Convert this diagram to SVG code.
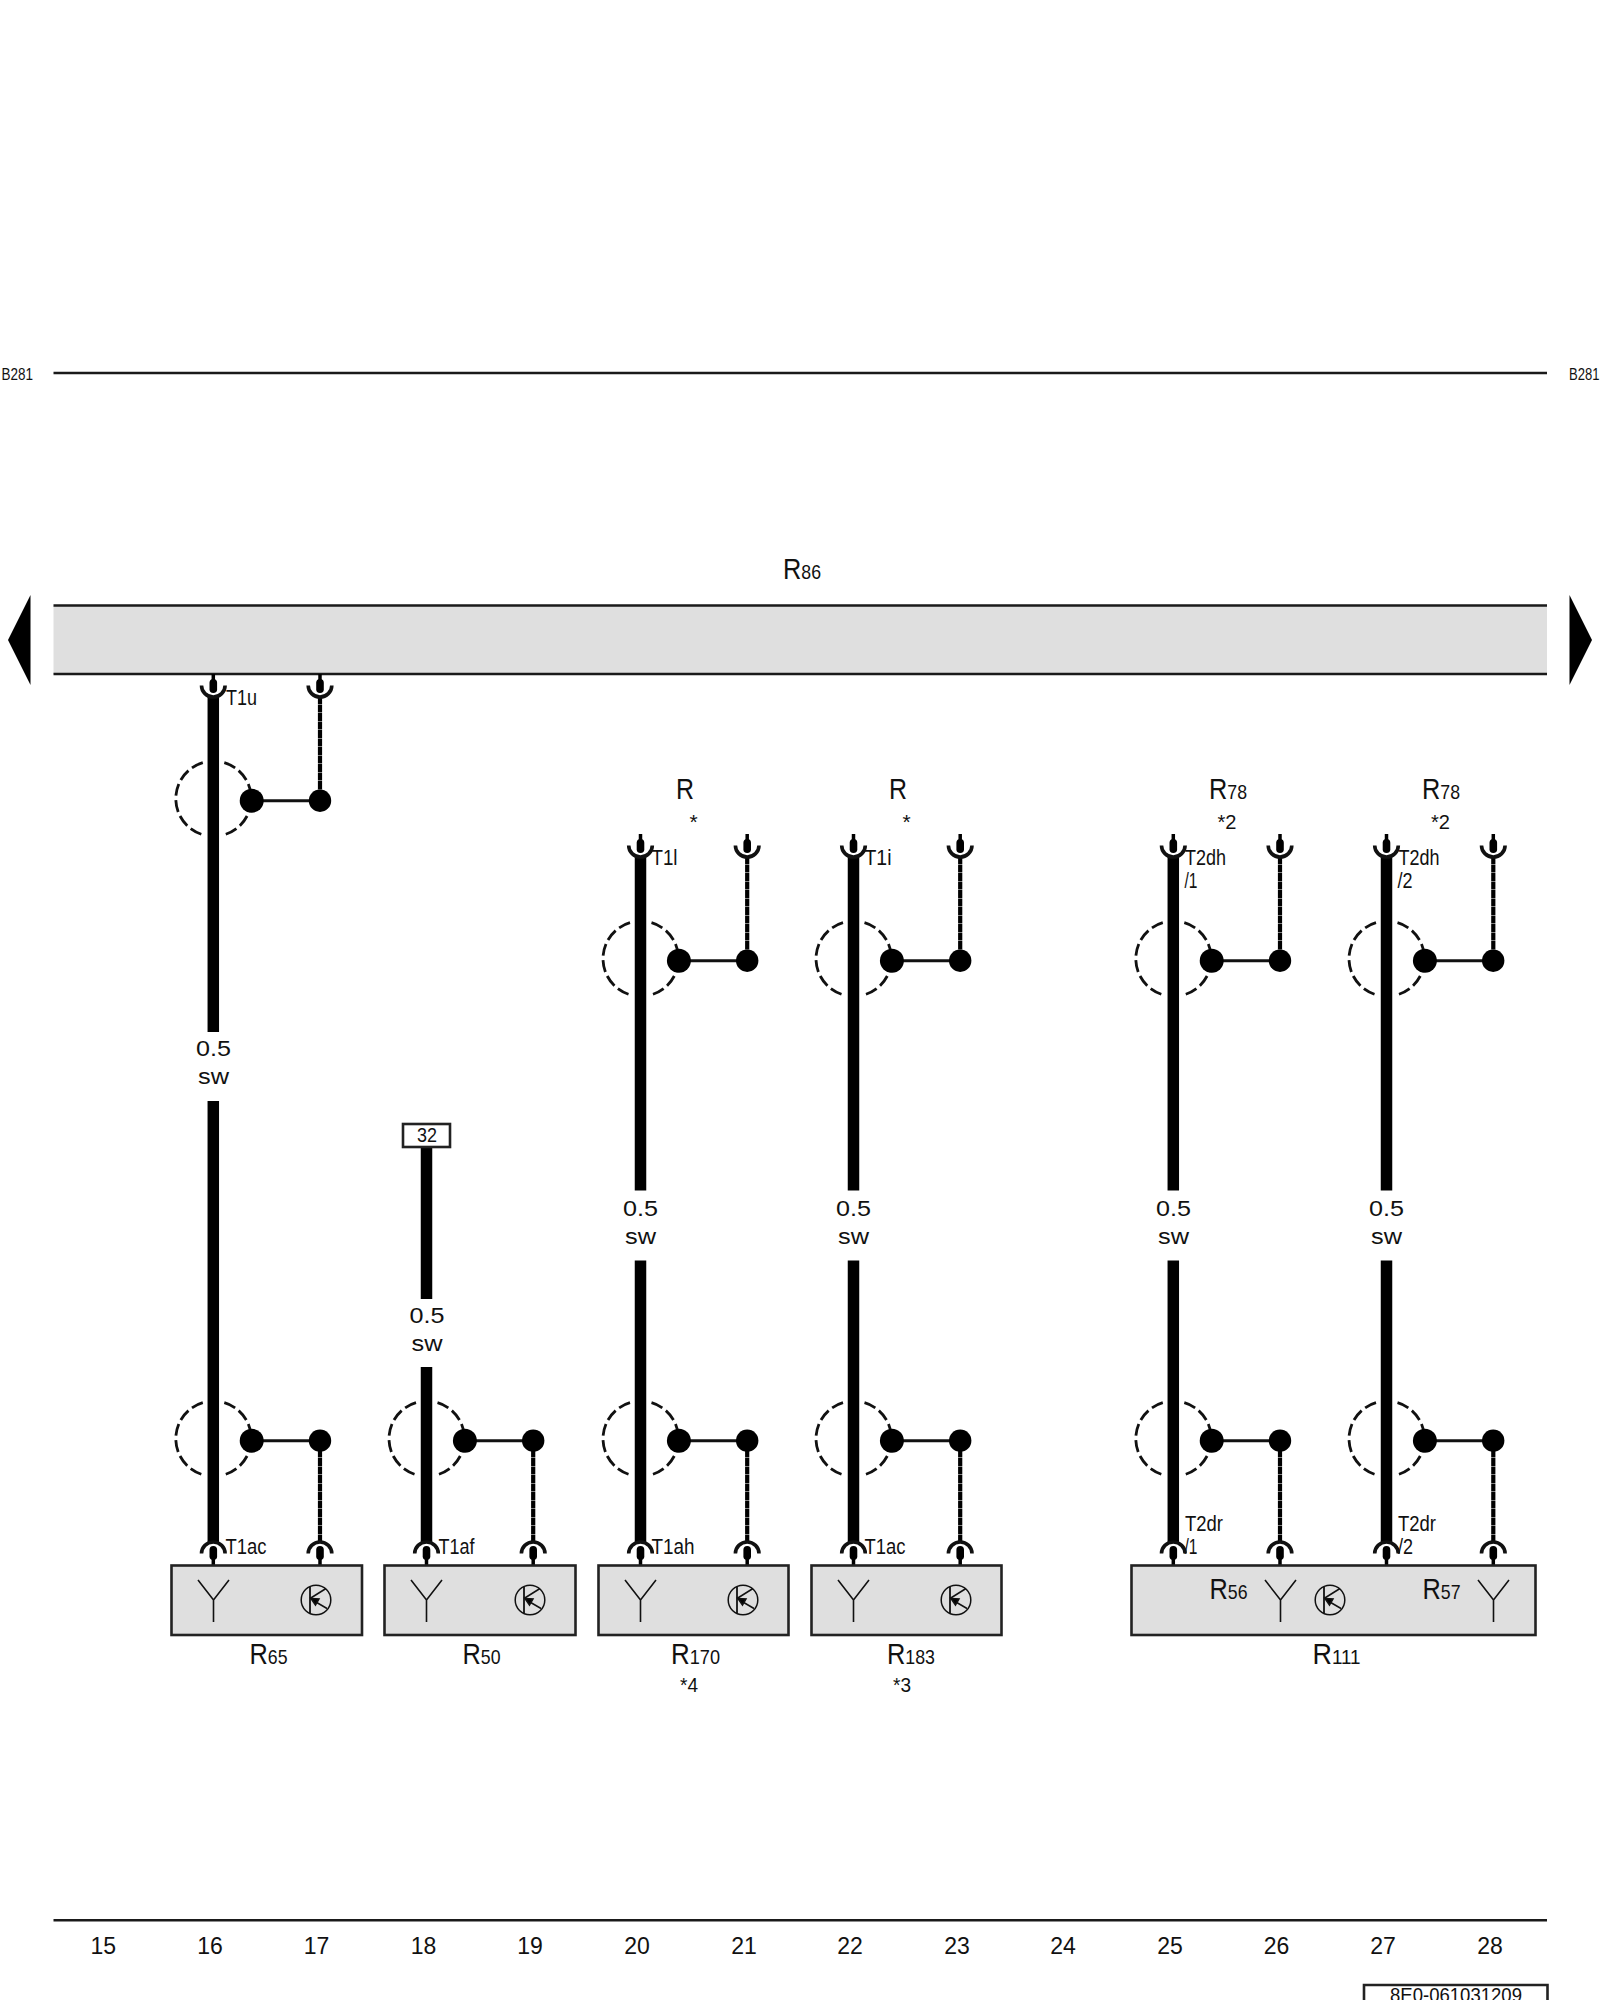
<svg xmlns="http://www.w3.org/2000/svg" xmlns:xlink="http://www.w3.org/1999/xlink" width="1600" height="2000" viewBox="0 0 1600 2000">
<style>
text{font-family:"Liberation Sans",Arial,sans-serif;fill:#111}
.big{font-size:30px}.sub{font-size:21px}
.pin{font-size:22px}.gauge{font-size:22px;text-anchor:middle}
.num{font-size:23px;text-anchor:middle}
.small{font-size:16.500px}.star{font-size:21px}
.rule{stroke:#1a1a1a;stroke-width:2.600;fill:none}
.box{fill:#dfdfdf;stroke:#222;stroke-width:2.600}
.thick{stroke:#000;stroke-width:11.500;fill:none}
.twist{stroke:#000;stroke-width:4.200;fill:none;stroke-dasharray:8 .5}
.thin{stroke:#111;fill:none}
</style>
<defs>
<g id="sock">
<path d="M0,0V8" stroke="#000" stroke-width="3.500"/>
<rect x="-3.800" y="5" width="7.600" height="14" rx="3.800" fill="#000"/>
<path d="M-11.800,11.500A11.800,11.500 0 0 0 11.800,11.500" class="thin" stroke-width="3.600"/>
</g>
<g id="shield">
<path d="M-10.500,-38A37.500,37.500 0 0 0 -10.500,34" class="thin" stroke-width="2.800" stroke-dasharray="12 4.500"/>
<path d="M11,-38A37.500,37.500 0 0 1 11,34" class="thin" stroke-width="2.800" stroke-dasharray="12 4.500"/>
<path d="M38,0H106" class="thin" stroke-width="3"/>
<circle cx="38.400" cy="0" r="12" fill="#000"/>
<circle cx="106.700" cy="0" r="11.200" fill="#000"/>
</g>
<g id="ant" class="thin" stroke-width="1.600">
<path d="M-15.500,-20L0,0L15.500,-20M0,0V22"/>
</g>
<g id="trans" class="thin" stroke-width="1.500">
<circle r="14.800"/>
<path d="M-6,-13V13" stroke-width="1.800"/>
<path d="M-6,-1.500L10,-11.500M-1,1.500L11,8.500"/>
<path d="M-5,-1.500L3,-1L-.5,5Z" fill="#000"/>
</g>
</defs>

<g id="border-lines">
<path class="rule" d="M53.500,373H1547"/>
<path class="rule" d="M53.500,1920.300H1547"/>
<text class="small" x="1.500" y="380" textLength="31.500" lengthAdjust="spacingAndGlyphs">B281</text>
<text class="small" x="1569" y="380" textLength="30.500" lengthAdjust="spacingAndGlyphs">B281</text>
</g>

<g id="R86">
<rect x="53.500" y="605.500" width="1493.500" height="68.500" fill="#dfdfdf"/>
<path class="rule" d="M53.500,605.500H1547M53.500,674H1547"/>
<path d="M8,640L30.500,595V685Z" fill="#000"/>
<path d="M1592,640L1569.500,595V685Z" fill="#000"/>
<text x="783" y="578.500" class="big" textLength="38" lengthAdjust="spacingAndGlyphs">R<tspan class="sub">86</tspan></text>
</g>

<g id="connectors">
<g id="shields">
<use xlink:href="#shield" href="#shield" x="213.300" y="800.700"/>
<use xlink:href="#shield" href="#shield" x="640.500" y="960.700"/>
<use xlink:href="#shield" href="#shield" x="853.500" y="960.700"/>
<use xlink:href="#shield" href="#shield" x="1173.300" y="960.700"/>
<use xlink:href="#shield" href="#shield" x="1386.500" y="960.700"/>
<use xlink:href="#shield" href="#shield" x="213.300" y="1440.700"/>
<use xlink:href="#shield" href="#shield" x="426.500" y="1440.700"/>
<use xlink:href="#shield" href="#shield" x="640.500" y="1440.700"/>
<use xlink:href="#shield" href="#shield" x="853.500" y="1440.700"/>
<use xlink:href="#shield" href="#shield" x="1173.300" y="1440.700"/>
<use xlink:href="#shield" href="#shield" x="1386.500" y="1440.700"/>
</g>
<g id="wires">
<path class="thick" d="M213.300,696V1032M213.300,1101V1543"/>
<path class="thick" d="M426.500,1147V1299M426.500,1367V1543"/>
<path class="thick" d="M640.500,856V1190.500M640.500,1260.500V1543"/>
<path class="thick" d="M853.500,856V1190.500M853.500,1260.500V1543"/>
<path class="thick" d="M1173.300,856V1190.500M1173.300,1260.500V1543"/>
<path class="thick" d="M1386.500,856V1190.500M1386.500,1260.500V1543"/>
<path class="twist" d="M320,696V800M320,1441V1543"/>
<path class="twist" d="M533.200,1441V1543"/>
<path class="twist" d="M747.200,856V960M747.200,1441V1543"/>
<path class="twist" d="M960.200,856V960M960.200,1441V1543"/>
<path class="twist" d="M1280,856V960M1280,1441V1543"/>
<path class="twist" d="M1493.300,856V960M1493.300,1441V1543"/>
</g>
<g id="sockets">
<use xlink:href="#sock" href="#sock" transform="translate(213.300,674)"/>
<use xlink:href="#sock" href="#sock" transform="translate(320,674)"/>
<use xlink:href="#sock" href="#sock" transform="translate(640.500,834)"/>
<use xlink:href="#sock" href="#sock" transform="translate(747.200,834)"/>
<use xlink:href="#sock" href="#sock" transform="translate(853.500,834)"/>
<use xlink:href="#sock" href="#sock" transform="translate(960.200,834)"/>
<use xlink:href="#sock" href="#sock" transform="translate(1173.300,834)"/>
<use xlink:href="#sock" href="#sock" transform="translate(1280,834)"/>
<use xlink:href="#sock" href="#sock" transform="translate(1386.500,834)"/>
<use xlink:href="#sock" href="#sock" transform="translate(1493.300,834)"/>
<use xlink:href="#sock" href="#sock" transform="translate(213.300,1565) scale(1,-1)"/>
<use xlink:href="#sock" href="#sock" transform="translate(320,1565) scale(1,-1)"/>
<use xlink:href="#sock" href="#sock" transform="translate(426.500,1565) scale(1,-1)"/>
<use xlink:href="#sock" href="#sock" transform="translate(533.200,1565) scale(1,-1)"/>
<use xlink:href="#sock" href="#sock" transform="translate(640.500,1565) scale(1,-1)"/>
<use xlink:href="#sock" href="#sock" transform="translate(747.200,1565) scale(1,-1)"/>
<use xlink:href="#sock" href="#sock" transform="translate(853.500,1565) scale(1,-1)"/>
<use xlink:href="#sock" href="#sock" transform="translate(960.200,1565) scale(1,-1)"/>
<use xlink:href="#sock" href="#sock" transform="translate(1173.300,1565) scale(1,-1)"/>
<use xlink:href="#sock" href="#sock" transform="translate(1280,1565) scale(1,-1)"/>
<use xlink:href="#sock" href="#sock" transform="translate(1386.500,1565) scale(1,-1)"/>
<use xlink:href="#sock" href="#sock" transform="translate(1493.300,1565) scale(1,-1)"/>
</g>
<g id="wire-labels">
<text class="gauge" x="213.500" y="1056" textLength="35" lengthAdjust="spacingAndGlyphs">0.5</text><text class="gauge" x="213.500" y="1084" textLength="31" lengthAdjust="spacingAndGlyphs">sw</text>
<text class="gauge" x="427" y="1323" textLength="35" lengthAdjust="spacingAndGlyphs">0.5</text><text class="gauge" x="427" y="1351" textLength="31" lengthAdjust="spacingAndGlyphs">sw</text>
<text class="gauge" x="640.500" y="1216" textLength="35" lengthAdjust="spacingAndGlyphs">0.5</text><text class="gauge" x="640.500" y="1244" textLength="31" lengthAdjust="spacingAndGlyphs">sw</text>
<text class="gauge" x="853.500" y="1216" textLength="35" lengthAdjust="spacingAndGlyphs">0.5</text><text class="gauge" x="853.500" y="1244" textLength="31" lengthAdjust="spacingAndGlyphs">sw</text>
<text class="gauge" x="1173.500" y="1216" textLength="35" lengthAdjust="spacingAndGlyphs">0.5</text><text class="gauge" x="1173.500" y="1244" textLength="31" lengthAdjust="spacingAndGlyphs">sw</text>
<text class="gauge" x="1386.500" y="1216" textLength="35" lengthAdjust="spacingAndGlyphs">0.5</text><text class="gauge" x="1386.500" y="1244" textLength="31" lengthAdjust="spacingAndGlyphs">sw</text>
</g>
<g id="pin-labels">
<text class="pin" x="226" y="705" textLength="31" lengthAdjust="spacingAndGlyphs">T1u</text>
<text class="pin" x="651.500" y="865" textLength="26" lengthAdjust="spacingAndGlyphs">T1l</text>
<text class="pin" x="864.500" y="865" textLength="27" lengthAdjust="spacingAndGlyphs">T1i</text>
<text class="pin" x="1185" y="865" textLength="41" lengthAdjust="spacingAndGlyphs">T2dh</text>
<text class="pin" x="1184.500" y="888" textLength="13" lengthAdjust="spacingAndGlyphs">/1</text>
<text class="pin" x="1398.500" y="865" textLength="41" lengthAdjust="spacingAndGlyphs">T2dh</text>
<text class="pin" x="1397.500" y="888" textLength="15" lengthAdjust="spacingAndGlyphs">/2</text>
<text class="pin" x="225.500" y="1554" textLength="41" lengthAdjust="spacingAndGlyphs">T1ac</text>
<text class="pin" x="438.500" y="1554" textLength="36" lengthAdjust="spacingAndGlyphs">T1af</text>
<text class="pin" x="651.500" y="1554" textLength="43" lengthAdjust="spacingAndGlyphs">T1ah</text>
<text class="pin" x="864.500" y="1554" textLength="41" lengthAdjust="spacingAndGlyphs">T1ac</text>
<text class="pin" x="1185" y="1531" textLength="38" lengthAdjust="spacingAndGlyphs">T2dr</text>
<text class="pin" x="1184.500" y="1554" textLength="13" lengthAdjust="spacingAndGlyphs">/1</text>
<text class="pin" x="1398" y="1531" textLength="38" lengthAdjust="spacingAndGlyphs">T2dr</text>
<text class="pin" x="1398" y="1554" textLength="15" lengthAdjust="spacingAndGlyphs">/2</text>
</g>
</g>

<g id="tag-32">
<rect x="403" y="1124" width="47" height="23" fill="#fff" stroke="#222" stroke-width="2.600"/>
<text x="417" y="1142" font-size="21" textLength="20" lengthAdjust="spacingAndGlyphs">32</text>
</g>

<g id="R-top-20">
<text class="big" x="676" y="799" textLength="18" lengthAdjust="spacingAndGlyphs">R</text>
<text class="star" x="689.500" y="829">*</text>
</g>
<g id="R-top-22">
<text class="big" x="889" y="799" textLength="18" lengthAdjust="spacingAndGlyphs">R</text>
<text class="star" x="902.500" y="829">*</text>
</g>
<g id="R78-a">
<text class="big" x="1209" y="799" textLength="38" lengthAdjust="spacingAndGlyphs">R<tspan class="sub">78</tspan></text>
<text class="star" x="1217.500" y="829" textLength="19" lengthAdjust="spacingAndGlyphs">*2</text>
</g>
<g id="R78-b">
<text class="big" x="1422" y="799" textLength="38" lengthAdjust="spacingAndGlyphs">R<tspan class="sub">78</tspan></text>
<text class="star" x="1431" y="829" textLength="19" lengthAdjust="spacingAndGlyphs">*2</text>
</g>

<g id="R65">
<rect class="box" x="171.500" y="1565.500" width="190.500" height="69.500"/>
<use xlink:href="#ant" href="#ant" x="213.500" y="1600"/>
<use xlink:href="#trans" href="#trans" x="316" y="1600"/>
<text class="big" x="249.500" y="1664" textLength="38" lengthAdjust="spacingAndGlyphs">R<tspan class="sub">65</tspan></text>
</g>
<g id="R50">
<rect class="box" x="384.500" y="1565.500" width="191" height="69.500"/>
<use xlink:href="#ant" href="#ant" x="426.500" y="1600"/>
<use xlink:href="#trans" href="#trans" x="530" y="1600"/>
<text class="big" x="462.500" y="1664" textLength="38" lengthAdjust="spacingAndGlyphs">R<tspan class="sub">50</tspan></text>
</g>
<g id="R170">
<rect class="box" x="598.500" y="1565.500" width="190" height="69.500"/>
<use xlink:href="#ant" href="#ant" x="640.500" y="1600"/>
<use xlink:href="#trans" href="#trans" x="743" y="1600"/>
<text class="big" x="671" y="1664" textLength="49" lengthAdjust="spacingAndGlyphs">R<tspan class="sub">170</tspan></text>
<text class="star" x="680" y="1692" textLength="18" lengthAdjust="spacingAndGlyphs">*4</text>
</g>
<g id="R183">
<rect class="box" x="811.500" y="1565.500" width="190" height="69.500"/>
<use xlink:href="#ant" href="#ant" x="853.500" y="1600"/>
<use xlink:href="#trans" href="#trans" x="956" y="1600"/>
<text class="big" x="887" y="1664" textLength="48" lengthAdjust="spacingAndGlyphs">R<tspan class="sub">183</tspan></text>
<text class="star" x="893" y="1692" textLength="18" lengthAdjust="spacingAndGlyphs">*3</text>
</g>
<g id="R111">
<rect class="box" x="1131.500" y="1565.500" width="404" height="69.500"/>
<use xlink:href="#ant" href="#ant" x="1280.500" y="1600"/>
<use xlink:href="#ant" href="#ant" x="1493.500" y="1600"/>
<use xlink:href="#trans" href="#trans" x="1330" y="1600"/>
<text class="big" x="1209.500" y="1599" textLength="38" lengthAdjust="spacingAndGlyphs">R<tspan class="sub">56</tspan></text>
<text class="big" x="1422.500" y="1599" textLength="38" lengthAdjust="spacingAndGlyphs">R<tspan class="sub">57</tspan></text>
<text class="big" x="1312.500" y="1664" textLength="48" lengthAdjust="spacingAndGlyphs">R<tspan class="sub">111</tspan></text>
</g>

<g id="grid-numbers">
<text class="num" x="103.300" y="1954">15</text>
<text class="num" x="210" y="1954">16</text>
<text class="num" x="316.500" y="1954">17</text>
<text class="num" x="423.500" y="1954">18</text>
<text class="num" x="530" y="1954">19</text>
<text class="num" x="637" y="1954">20</text>
<text class="num" x="744" y="1954">21</text>
<text class="num" x="850" y="1954">22</text>
<text class="num" x="957" y="1954">23</text>
<text class="num" x="1063" y="1954">24</text>
<text class="num" x="1170" y="1954">25</text>
<text class="num" x="1276.500" y="1954">26</text>
<text class="num" x="1383" y="1954">27</text>
<text class="num" x="1490" y="1954">28</text>
</g>

<g id="code-box">
<path d="M1364,2001V1985H1547.500V2001" fill="none" stroke="#222" stroke-width="2.600"/>
<text x="1390" y="2002" font-size="20" textLength="132" lengthAdjust="spacingAndGlyphs">8E0-061031209</text>
</g>
</svg>
